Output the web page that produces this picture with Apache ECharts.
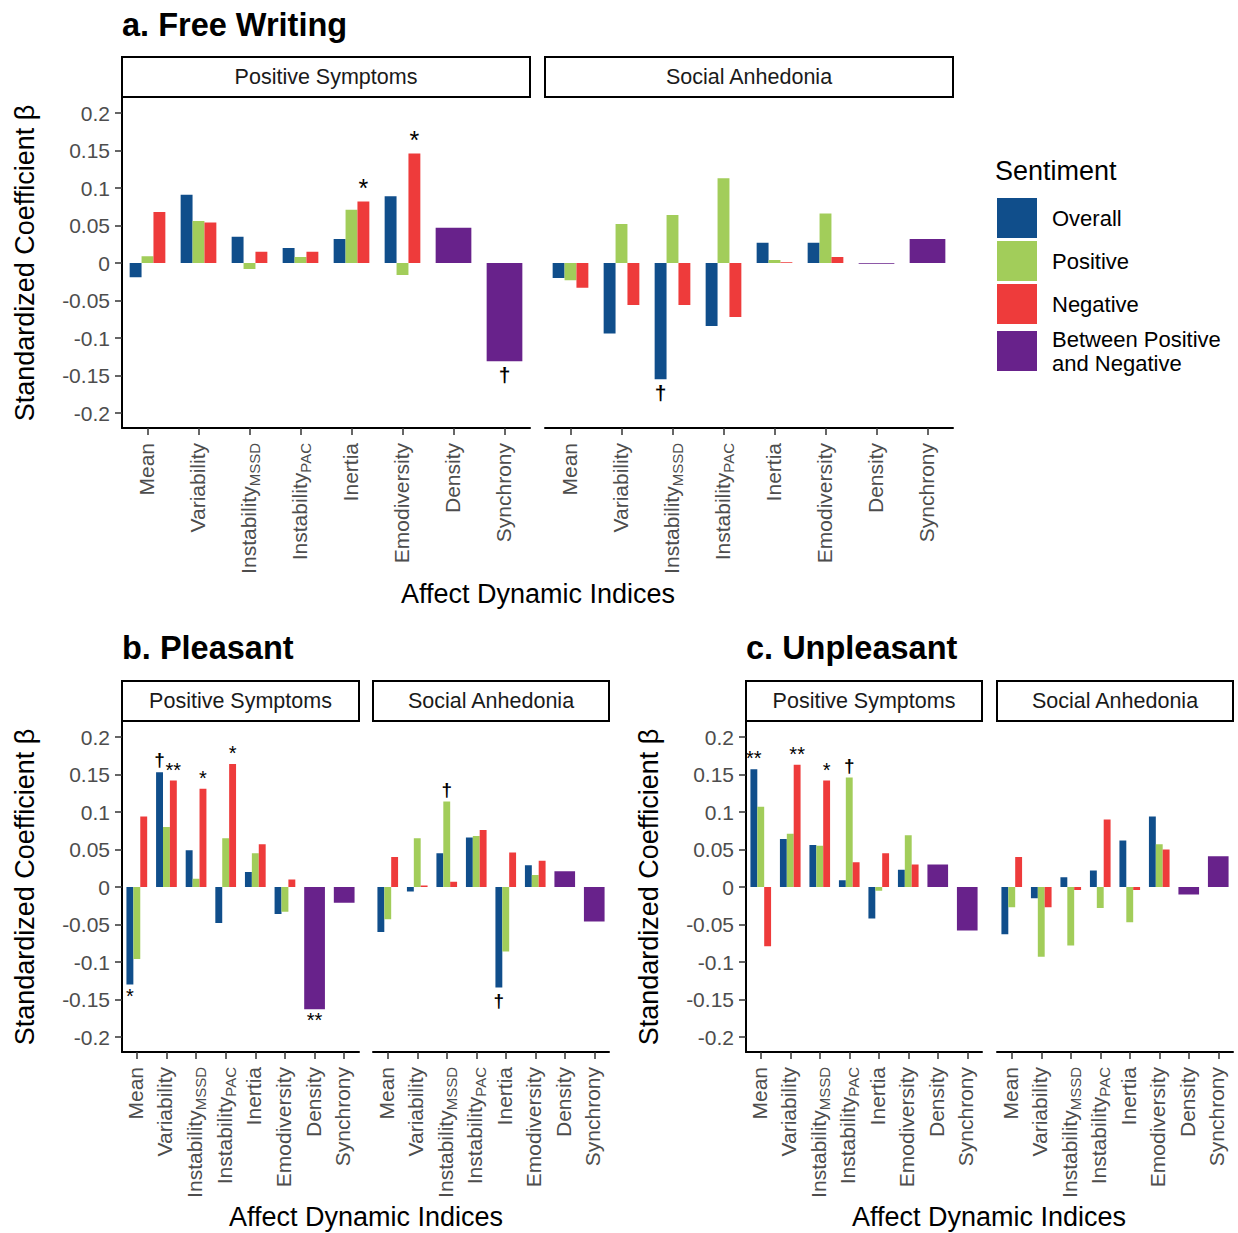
<!DOCTYPE html>
<html>
<head>
<meta charset="utf-8">
<script src="https://cdn.jsdelivr.net/npm/echarts@6/dist/echarts.min.js"></script>
<style>html,body{margin:0;padding:0;background:#fff}#chart{width:1238px;height:1233px}</style>
</head>
<body>
<div id="chart"></div>
<script>
// ---------------- DATA ----------------
const categories = ['Mean','Variability','InstabilityMSSD','InstabilityPAC','Inertia','Emodiversity','Density','Synchrony'];
const catMain = ['Mean','Variability','Instability','Instability','Inertia','Emodiversity','Density','Synchrony'];
const catSub  = ['','','MSSD','PAC','','','',''];
const seriesNames = ['Overall','Positive','Negative','Between Positive and Negative'];
const yTicks = [-0.2,-0.15,-0.1,-0.05,0,0.05,0.1,0.15,0.2];

// a. Free Writing — Positive Symptoms
const aPS_overall  = [-0.019, 0.091, 0.035, 0.020, 0.032, 0.089, null, null];
const aPS_positive = [ 0.009, 0.056,-0.008, 0.008, 0.071,-0.016, null, null];
const aPS_negative = [ 0.068, 0.054, 0.015, 0.015, 0.082, 0.146, null, null];
const aPS_between  = [null, null, null, null, null, null, 0.047,-0.131];
// a. Free Writing — Social Anhedonia
const aSA_overall  = [-0.020,-0.094,-0.155,-0.084, 0.027, 0.027, null, null];
const aSA_positive = [-0.023, 0.052, 0.064, 0.113, 0.004, 0.066, null, null];
const aSA_negative = [-0.033,-0.056,-0.056,-0.072, 0.001, 0.008, null, null];
const aSA_between  = [null, null, null, null, null, null,-0.001, 0.032];
// b. Pleasant — Positive Symptoms
const bPS_overall  = [-0.130, 0.153, 0.049,-0.048, 0.020,-0.036, null, null];
const bPS_positive = [-0.096, 0.080, 0.011, 0.065, 0.045,-0.033, null, null];
const bPS_negative = [ 0.094, 0.142, 0.131, 0.164, 0.057, 0.010, null, null];
const bPS_between  = [null, null, null, null, null, null,-0.163,-0.021];
// b. Pleasant — Social Anhedonia
const bSA_overall  = [-0.060,-0.006, 0.045, 0.066,-0.134, 0.029, null, null];
const bSA_positive = [-0.043, 0.065, 0.114, 0.068,-0.086, 0.016, null, null];
const bSA_negative = [ 0.040, 0.002, 0.007, 0.076, 0.046, 0.035, null, null];
const bSA_between  = [null, null, null, null, null, null, 0.021,-0.046];
// c. Unpleasant — Positive Symptoms
const cPS_overall  = [ 0.157, 0.064, 0.056, 0.009,-0.042, 0.023, null, null];
const cPS_positive = [ 0.107, 0.071, 0.055, 0.146,-0.005, 0.069, null, null];
const cPS_negative = [-0.079, 0.163, 0.142, 0.033, 0.045, 0.030, null, null];
const cPS_between  = [null, null, null, null, null, null, 0.030,-0.058];
// c. Unpleasant — Social Anhedonia
const cSA_overall  = [-0.063,-0.015, 0.013, 0.022, 0.062, 0.094, null, null];
const cSA_positive = [-0.027,-0.093,-0.078,-0.028,-0.047, 0.057, null, null];
const cSA_negative = [ 0.040,-0.027,-0.004, 0.090,-0.004, 0.050, null, null];
const cSA_between  = [null, null, null, null, null, null,-0.010, 0.041];

// significance markers: [facet, series index, category index, mark]
const sigMarks = [
  ['aPS',2,4,'*'],['aPS',2,5,'*'],['aPS',3,7,'†'],
  ['aSA',0,2,'†'],
  ['bPS',0,0,'*'],['bPS',0,1,'†'],['bPS',2,1,'**'],['bPS',2,2,'*'],['bPS',2,3,'*'],['bPS',3,6,'**'],
  ['bSA',1,2,'†'],['bSA',0,4,'†'],
  ['cPS',0,0,'**'],['cPS',2,1,'**'],['cPS',2,2,'*'],['cPS',1,3,'†']
];

const facetData = {
  aPS:[aPS_overall,aPS_positive,aPS_negative,aPS_between],
  aSA:[aSA_overall,aSA_positive,aSA_negative,aSA_between],
  bPS:[bPS_overall,bPS_positive,bPS_negative,bPS_between],
  bSA:[bSA_overall,bSA_positive,bSA_negative,bSA_between],
  cPS:[cPS_overall,cPS_positive,cPS_negative,cPS_between],
  cSA:[cSA_overall,cSA_positive,cSA_negative,cSA_between]
};

// ---------------- LAYOUT / STYLE ----------------
const colors = ['#104E8B','#A2CD5A','#EE3B3B','#68228B'];
const FONT = "'Liberation Sans', Arial, Helvetica, sans-serif";
const facets = [
  {id:'aPS', strip:'Positive Symptoms', left:122, top:98,  width:408, height:330, yAxis:true,  mark:[25,21]},
  {id:'aSA', strip:'Social Anhedonia',  left:545, top:98,  width:408, height:330, yAxis:false, mark:[25,21]},
  {id:'bPS', strip:'Positive Symptoms', left:122, top:722, width:237, height:330, yAxis:true,  mark:[20,19]},
  {id:'bSA', strip:'Social Anhedonia',  left:373, top:722, width:236, height:330, yAxis:false, mark:[20,19]},
  {id:'cPS', strip:'Positive Symptoms', left:746, top:722, width:236, height:330, yAxis:true,  mark:[20,19]},
  {id:'cSA', strip:'Social Anhedonia',  left:997, top:722, width:236, height:330, yAxis:false, mark:[20,19]}
];

const grid = [], xAxis = [], yAxis = [], series = [], graphic = [];

facets.forEach((f, i) => {
  grid.push({left:f.left, top:f.top, width:f.width, height:f.height, containLabel:false});
  xAxis.push({
    type:'category', gridIndex:i, data:categories, position:'bottom',
    axisLine:{show:true, onZero:false, lineStyle:{color:'#000', width:2}},
    axisTick:{show:true, alignWithLabel:true, length:7, lineStyle:{color:'#333', width:1.5}},
    axisLabel:{
      rotate:90, margin:15, interval:0, color:'#4D4D4D',
      formatter:(v, idx) => {
        const k = categories.indexOf(v);
        return catSub[k] ? '{m|' + catMain[k] + '}{s|' + catSub[k] + '}' : '{m|' + catMain[k] + '}';
      },
      rich:{
        m:{fontSize:21, fontFamily:FONT, color:'#4D4D4D', lineHeight:24, verticalAlign:'top'},
        s:{fontSize:15, fontFamily:FONT, color:'#4D4D4D', lineHeight:15, padding:[9,0,0,0], verticalAlign:'top'}
      }
    },
    splitLine:{show:false}
  });
  xAxis.push({type:'category', gridIndex:i, data:categories, show:false});
  yAxis.push({
    type:'value', gridIndex:i, min:-0.22, max:0.22, show:f.yAxis,
    name: f.yAxis ? 'Standardized Coefficient β' : '',
    nameLocation:'middle', nameGap:84, nameRotate:90,
    nameTextStyle:{fontSize:27, color:'#000', fontFamily:FONT},
    axisLine:{show:true, lineStyle:{color:'#000', width:2}},
    axisTick:{show:true, customValues:yTicks, length:7, lineStyle:{color:'#333', width:1.5}},
    axisLabel:{customValues:yTicks, fontSize:21, color:'#4D4D4D', margin:12, fontFamily:FONT,
      formatter:v => String(Math.round(v*100)/100)},
    splitLine:{show:false}
  });

  const sets = facetData[f.id];
  sets.forEach((arr, s) => {
    const data = arr.map((v, k) => {
      if (v === null) return '-';
      const m = sigMarks.find(e => e[0] === f.id && e[1] === s && e[2] === k);
      if (!m) return v;
      const isDagger = m[3] === '†';
      return {value:v, label:{show:true, formatter:m[3], position: v < 0 ? 'bottom' : 'top',
        distance: isDagger ? 3 : 1, color:'#000', fontFamily:FONT,
        fontSize: isDagger ? f.mark[1] : f.mark[0], fontWeight: isDagger ? 'bold' : 'normal'}};
    });
    series.push({
      type:'bar', name:seriesNames[s],
      xAxisIndex: s < 3 ? 2*i : 2*i+1, yAxisIndex:i,
      data, barGap:'0%', barCategoryGap:'30%',
      itemStyle:{color:colors[s]},
      emphasis:{disabled:true}
    });
  });

  // facet strip
  graphic.push({type:'rect', shape:{x:f.left, y:f.top-41, width:f.width, height:40},
    style:{fill:'#fff', stroke:'#000', lineWidth:2}});
  graphic.push({type:'text', x:f.left + f.width/2, y:f.top-21,
    style:{text:f.strip, fontSize:21.5, fontFamily:FONT, fill:'#1A1A1A', textAlign:'center', textVerticalAlign:'middle'}});
});

// panel titles and x-axis titles
const panelTitles = [
  {text:'a. Free Writing', x:122, y:25},
  {text:'b. Pleasant', x:122, y:648},
  {text:'c. Unpleasant', x:746, y:648}
];
panelTitles.forEach(t => graphic.push({type:'text', x:t.x, y:t.y,
  style:{text:t.text, fontSize:32.5, fontWeight:'bold', fontFamily:FONT, fill:'#000', textAlign:'left', textVerticalAlign:'middle'}}));
const xTitles = [{x:538, y:594},{x:366, y:1217},{x:989, y:1217}];
xTitles.forEach(t => graphic.push({type:'text', x:t.x, y:t.y,
  style:{text:'Affect Dynamic Indices', fontSize:27, fontFamily:FONT, fill:'#000', textAlign:'center', textVerticalAlign:'middle'}}));
graphic.push({type:'text', x:995, y:171,
  style:{text:'Sentiment', fontSize:27, fontFamily:FONT, fill:'#000', textAlign:'left', textVerticalAlign:'middle'}});

const option = {
  animation:false,
  backgroundColor:'#fff',
  textStyle:{fontFamily:FONT},
  grid, xAxis, yAxis, series, graphic,
  legend:{
    orient:'vertical', left:997, top:198, padding:0, itemWidth:40, itemHeight:40, itemGap:3,
    icon:'rect', selectedMode:false,
    data:seriesNames,
    formatter:n => n === 'Between Positive and Negative' ? 'Between Positive\nand Negative' : n,
    textStyle:{fontSize:22, color:'#000', fontFamily:FONT, lineHeight:24, padding:[0,0,0,10]}
  }
};

const chart = echarts.init(document.getElementById('chart'), null, {renderer:'svg', width:1238, height:1233});
chart.setOption(option);
</script>
</body>
</html>
